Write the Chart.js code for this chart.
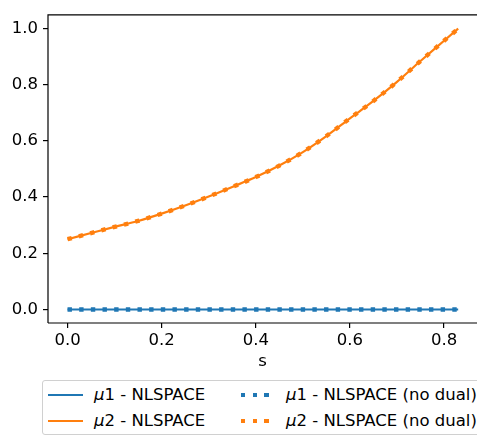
<!DOCTYPE html>
<html>
<head>
<meta charset="utf-8">
<script src="https://cdn.jsdelivr.net/npm/chart.js@4"></script>
<style>
    html, body { margin: 0; width: 477px; height: 437px; overflow: hidden; background: #fff; font-family: "DejaVu Sans", sans-serif; }
    #wrap { position: absolute; left: 0; top: 0; width: 477px; height: 372px; }
    .legend { position: absolute; left: 42px; top: 380px; width: 480px; height: 55px; border: 1px solid #d0d0d0; border-radius: 3px; box-sizing: border-box; }
    .item { position: absolute; height: 20px; font-size: 16.5px; color: #000; line-height: 20px; white-space: nowrap; }
    .item .txt { position: absolute; top: 0; }
    .solid { position: absolute; top: 9px; height: 2.2px; width: 35px; }
    .dot { position: absolute; top: 8px; width: 4.4px; height: 4.4px; }
</style>
</head>
<body>
<div id="wrap"><canvas id="chart"></canvas></div>
<div class="legend" id="legend"></div>

<script>
// data
const sValues = [0, 0.05, 0.1, 0.15, 0.2, 0.25, 0.3, 0.35, 0.4, 0.45, 0.5, 0.55, 0.6, 0.65, 0.7, 0.75, 0.8, 0.83];
const mu1 = [0, 0, 0, 0, 0, 0, 0, 0, 0, 0, 0, 0, 0, 0, 0, 0, 0, 0];
const mu2 = [0.250, 0.272, 0.294, 0.315, 0.341, 0.370, 0.402, 0.436, 0.471, 0.512, 0.560, 0.617, 0.680, 0.742, 0.810, 0.884, 0.956, 0.999];
const mu1NoDual = [0, 0, 0, 0, 0, 0, 0, 0, 0, 0, 0, 0, 0, 0, 0, 0, 0, 0];
const mu2NoDual = [0.250, 0.272, 0.294, 0.315, 0.341, 0.370, 0.402, 0.436, 0.471, 0.512, 0.560, 0.617, 0.680, 0.742, 0.810, 0.884, 0.956, 0.999];
const xTicks = [0, 0.2, 0.4, 0.6, 0.8];
const yTicks = [0, 0.2, 0.4, 0.6, 0.8, 1.0];

const BLUE = "#1f77b4";
const ORANGE = "#ff7f0e";
const FONT = { family: "DejaVu Sans", size: 16.5 };

function points(ys) {
    return sValues.map((s, i) => ({ x: s, y: ys[i] }));
}

function solid(label, ys, color, order) {
    return {
        label: label, data: points(ys), borderColor: color, borderWidth: 2.2,
        pointRadius: 0, cubicInterpolationMode: "monotone", order: order
    };
}

function dotted(label, ys, color, order) {
    return {
        label: label, data: points(ys), borderColor: color, borderWidth: 4.4,
        borderDash: [4.4, 7.26], borderCapStyle: "butt",
        pointRadius: 0, cubicInterpolationMode: "monotone", order: order
    };
}

// spines on top/left/bottom (right side is cut off in the reference)
const spines = {
    id: "spines",
    afterDraw(chart) {
        const a = chart.chartArea;
        const c = chart.ctx;
        c.save();
        c.strokeStyle = "#000";
        c.lineWidth = 1.2;
        c.beginPath();
        c.moveTo(a.left, a.bottom);
        c.lineTo(a.left, a.top);
        c.lineTo(a.right, a.top);
        c.moveTo(a.left, a.bottom);
        c.lineTo(a.right, a.bottom);
        c.stroke();
        c.restore();
    }
};

const ctx = document.getElementById("chart");

new Chart(ctx, {
    type: "line",
    data: {
        datasets: [
            solid("μ1 - NLSPACE", mu1, BLUE, 3),
            solid("μ2 - NLSPACE", mu2, ORANGE, 2),
            dotted("μ1 - NLSPACE (no dual)", mu1NoDual, BLUE, 1),
            dotted("μ2 - NLSPACE (no dual)", mu2NoDual, ORANGE, 0)
        ]
    },
    options: {
        responsive: true,
        maintainAspectRatio: false,
        animation: false,
        layout: { padding: { top: 3, left: 0, right: 0, bottom: 0 } },
        plugins: { legend: { display: false }, tooltip: { enabled: false } },
        scales: {
            x: {
                type: "linear",
                min: -0.0415,
                max: 0.870,
                afterBuildTicks: axis => { axis.ticks = xTicks.map(v => ({ value: v })); },
                afterFit: scale => { scale.height = 49; },
                grid: { drawOnChartArea: false, drawTicks: true, tickLength: 5, color: "#000", lineWidth: 1.2 },
                border: { display: false },
                ticks: { font: FONT, color: "#000", padding: 3, maxRotation: 0, callback: v => v.toFixed(1) },
                title: { display: true, text: "s", font: FONT, color: "#000", padding: { top: 0, bottom: 0 } }
            },
            y: {
                min: -0.048,
                max: 1.048,
                afterBuildTicks: axis => { axis.ticks = yTicks.map(v => ({ value: v })); },
                afterFit: scale => { scale.width = 48; },
                grid: { drawOnChartArea: false, drawTicks: true, tickLength: 5, color: "#000", lineWidth: 1.2 },
                border: { display: false },
                ticks: { font: FONT, color: "#000", padding: 5, callback: v => v.toFixed(1) }
            }
        }
    },
    plugins: [spines]
});

// legend, two columns like matplotlib ncol=2
const legendItems = [
    { name: "1 - NLSPACE", color: BLUE, style: "solid", col: 0, row: 0 },
    { name: "2 - NLSPACE", color: ORANGE, style: "solid", col: 0, row: 1 },
    { name: "1 - NLSPACE (no dual)", color: BLUE, style: "dot", col: 1, row: 0 },
    { name: "2 - NLSPACE (no dual)", color: ORANGE, style: "dot", col: 1, row: 1 }
];
const legend = document.getElementById("legend");
legendItems.forEach(it => {
    const el = document.createElement("div");
    el.className = "item";
    el.style.left = (it.col === 0 ? 5 : 198) + "px";
    el.style.top = (it.row === 0 ? 4 : 30) + "px";
    let html = "";
    if (it.style === "solid") {
        html += '<span class="solid" style="left:0;background:' + it.color + '"></span>';
    } else {
        for (let k = 0; k < 3; k++) {
            html += '<span class="dot" style="left:' + (k * 11.66) + 'px;background:' + it.color + '"></span>';
        }
    }
    html += '<span class="txt" style="left:' + (it.col === 0 ? 46 : 45) + 'px"><i>μ</i>' + it.name + "</span>";
    el.innerHTML = html;
    legend.appendChild(el);
});
</script>
</body>
</html>
